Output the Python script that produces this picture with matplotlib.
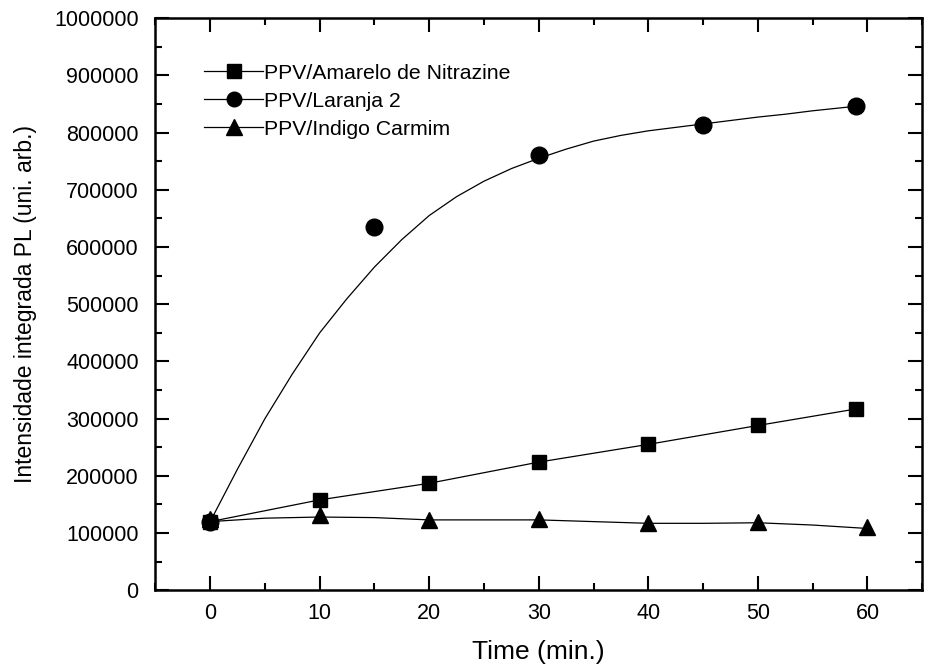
import numpy as np
import matplotlib.pyplot as plt
from matplotlib.ticker import MultipleLocator

plt.rcParams['font.family'] = ['Liberation Sans', 'DejaVu Sans']

# PPV/Amarelo de Nitrazine
t_amarelo = [0, 10, 20, 30, 40, 50, 59]
pl_amarelo = [120000, 158000, 187000, 224000, 255000, 288000, 317000]

# PPV/Laranja 2 (points and fitted curve)
t_laranja = [0, 15, 30, 45, 59]
pl_laranja = [120000, 635000, 761000, 814000, 846000]
t_laranja_fit = [0, 2.5, 5, 7.5, 10, 12.5, 15, 17.5, 20, 22.5, 25, 27.5, 30,
                 32.5, 35, 37.5, 40, 42.5, 45, 47.5, 50, 52.5, 55, 57.5, 59]
pl_laranja_fit = [120000, 212000, 300000, 378000, 450000, 510000, 565000, 613000,
                  655000, 688000, 715000, 737000, 755000, 771000, 785000, 795000,
                  803000, 809000, 815000, 821000, 827000, 832000, 838000, 843000, 846000]

# PPV/Indigo Carmim
t_indigo = [0, 10, 20, 30, 40, 50, 60]
pl_indigo = [125000, 131000, 122000, 125000, 117000, 120000, 110000]
t_indigo_line = [0, 5, 10, 15, 20, 25, 30, 35, 40, 45, 50, 55, 60]
pl_indigo_line = [120000, 126000, 128000, 127000, 123000, 123000, 123000, 120000,
                  117000, 117000, 118000, 114000, 108000]

fig = plt.figure(figsize=(9.25, 6.7), dpi=100)
ax = fig.add_axes([0.168, 0.119, 0.829, 0.854])

lw = 0.9
ax.plot(t_amarelo, pl_amarelo, color='black', lw=lw)
ax.plot(t_amarelo, pl_amarelo, ls='none', marker='s', ms=10, color='black')
ax.plot(t_laranja_fit, pl_laranja_fit, color='black', lw=lw)
ax.plot(t_laranja, pl_laranja, ls='none', marker='o', ms=12, color='black')
ax.plot(t_indigo_line, pl_indigo_line, color='black', lw=lw)
ax.plot(t_indigo, pl_indigo, ls='none', marker='^', ms=12, color='black')

# legend proxies
h1, = ax.plot([], [], color='black', lw=lw, marker='s', ms=9.5)
h2, = ax.plot([], [], color='black', lw=lw, marker='o', ms=10.5)
h3, = ax.plot([], [], color='black', lw=lw, marker='^', ms=11.5)
ax.legend([h1, h2, h3],
          ['PPV/Amarelo de Nitrazine', 'PPV/Laranja 2', 'PPV/Indigo Carmim'],
          loc='upper left', bbox_to_anchor=(0.052, 0.935), frameon=False,
          fontsize=15.3, handlelength=2.8, handletextpad=0.05,
          labelspacing=0.42, numpoints=1, borderaxespad=0)

ax.set_xlim(-5, 65)
ax.set_ylim(0, 1000000)
ax.xaxis.set_major_locator(MultipleLocator(10))
ax.xaxis.set_minor_locator(MultipleLocator(5))
ax.yaxis.set_major_locator(MultipleLocator(100000))
ax.yaxis.set_minor_locator(MultipleLocator(50000))
ax.ticklabel_format(axis='y', style='plain', useOffset=False)
ax.tick_params(which='both', direction='in', top=True, right=True,
               width=1.5, labelsize=15.5)
ax.tick_params(which='major', length=10)
ax.tick_params(which='minor', length=5)
ax.tick_params(axis='x', which='major', pad=9)
ax.tick_params(axis='y', which='major', pad=12)
for s in ax.spines.values():
    s.set_linewidth(1.8)

ax.set_xlabel('Time (min.)', fontsize=19, labelpad=12)
ax.set_ylabel('Intensidade integrada PL (uni. arb.)', fontsize=16.5, labelpad=12)

fig.savefig('out.png', dpi=100)
